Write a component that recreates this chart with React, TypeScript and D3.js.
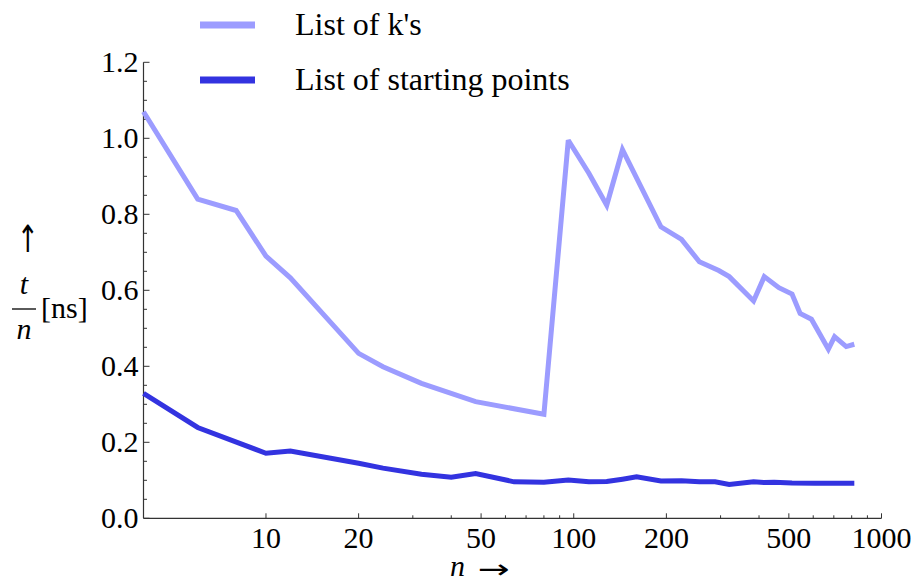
import React, { useEffect, useRef } from "react";
import * as d3 from "d3";

// list of k's
const kN = [4, 6, 8, 10, 12, 20, 24, 32, 48, 80, 96, 112, 128, 144, 192, 224, 256, 296, 320, 384, 416, 464, 512, 544, 592, 672, 704, 768, 816];
const kT = [1.07, 0.84, 0.81, 0.69, 0.633, 0.434, 0.399, 0.355, 0.307, 0.274, 0.995, 0.908, 0.824, 0.97, 0.767, 0.734, 0.675, 0.652, 0.636, 0.572, 0.636, 0.607, 0.59, 0.539, 0.524, 0.445, 0.478, 0.452, 0.458];

// list of starting points
const sN = [4, 6, 10, 12, 20, 24, 32, 40, 48, 64, 80, 96, 112, 128, 144, 160, 192, 224, 256, 288, 320, 384, 416, 448, 512, 608, 672, 816];
const sT = [0.329, 0.239, 0.171, 0.177, 0.145, 0.132, 0.116, 0.108, 0.118, 0.096, 0.095, 0.101, 0.096, 0.097, 0.103, 0.109, 0.098, 0.099, 0.096, 0.096, 0.089, 0.096, 0.094, 0.095, 0.093, 0.092, 0.092, 0.092];

const xLabels = [10, 20, 50, 100, 200, 500, 1000];
const xMinor = [30, 40, 60, 70, 80, 90, 300, 400, 600, 700, 800, 900];
const yLabels = [0, 0.2, 0.4, 0.6, 0.8, 1.0, 1.2];
const legendNames = ["List of k's", "List of starting points"];
const colors = ["#9c9cff", "#3333e0"];

const serif = "Liberation Serif";

export default function App() {
  const gref = useRef<SVGGElement>(null);
  const width = 917;
  const height = 584;

  useEffect(() => {
    const g = d3.select(gref.current);
    g.selectAll("*").remove();

    const x = d3.scaleLog([4, 1000], [143.5, 881.5]);
    const y = d3.scaleLinear([0, 1.2], [518.3, 62.3]);

    // x axis, ticks point inward
    const gx = g.append("g").attr("transform", `translate(0,${y(0)})`);
    gx.append("line")
      .attr("x1", x(4)).attr("x2", x(1000))
      .attr("stroke", "#333").attr("stroke-width", 1.2);
    gx.selectAll(".maj").data(xLabels).join("line")
      .attr("x1", d => x(d)).attr("x2", d => x(d))
      .attr("y1", 0).attr("y2", -5)
      .attr("stroke", "#333");
    gx.selectAll(".min").data(xMinor).join("line")
      .attr("x1", d => x(d)).attr("x2", d => x(d))
      .attr("y1", 0).attr("y2", -3)
      .attr("stroke", "#333");
    gx.selectAll("text").data(xLabels).join("text")
      .attr("x", d => x(d)).attr("y", 30)
      .attr("text-anchor", "middle")
      .attr("font-family", serif).attr("font-size", 30)
      .text(d => d);

    // y axis
    const gy = g.append("g").attr("transform", `translate(${x(4)},0)`);
    gy.append("line")
      .attr("y1", y(0)).attr("y2", y(1.2))
      .attr("stroke", "#333").attr("stroke-width", 1.2);
    gy.selectAll(".maj").data(yLabels).join("line")
      .attr("y1", d => y(d)).attr("y2", d => y(d))
      .attr("x1", 0).attr("x2", 6)
      .attr("stroke", "#333");
    gy.selectAll(".min").data(d3.range(0.05, 1.2, 0.05).filter((_, i) => (i + 1) % 4 !== 0)).join("line")
      .attr("y1", d => y(d)).attr("y2", d => y(d))
      .attr("x1", 0).attr("x2", 3.5)
      .attr("stroke", "#333");
    gy.selectAll("text").data(yLabels).join("text")
      .attr("x", -5).attr("y", d => y(d) + 10)
      .attr("text-anchor", "end")
      .attr("font-family", serif).attr("font-size", 30)
      .text(d => d3.format(".1f")(d));

    // lines
    const line = d3.line<[number, number]>()
      .x(d => x(d[0]))
      .y(d => y(d[1]));

    const series: [number, number][][] = [
      kN.map((n, i) => [n, kT[i]]),
      sN.map((n, i) => [n, sT[i]]),
    ];
    series.forEach((s, i) => {
      g.append("path")
        .attr("d", line(s))
        .attr("fill", "none")
        .attr("stroke", colors[i])
        .attr("stroke-width", 5)
        .attr("stroke-linejoin", "miter")
        .attr("stroke-miterlimit", 3);
    });

    // legend
    const lg = g.append("g");
    legendNames.forEach((name, i) => {
      const ly = 25 + i * 55;
      lg.append("line")
        .attr("x1", 200).attr("x2", 255)
        .attr("y1", ly).attr("y2", ly)
        .attr("stroke", colors[i]).attr("stroke-width", 7);
      lg.append("text")
        .attr("x", 295).attr("y", ly + 10)
        .attr("font-family", serif).attr("font-size", 32)
        .text(name);
    });
  }, []);

  const lab = { fontFamily: serif, fontSize: 30, fill: "#000" };
  const arrow = { fontFamily: "DejaVu Sans", fontSize: 26, fill: "#000" };

  return (
    <svg width={width} height={height}
      style={{ position: "absolute", left: 0, top: 0, background: "#fff" }}>
      <g ref={gref} />
      <text x={465} y={576} textAnchor="end" fontStyle="italic" style={lab}>n</text>
      <text x={478} y={578} textLength={32} lengthAdjust="spacingAndGlyphs" style={arrow}>→</text>
      <text transform="translate(28,252) scale(1,1.45)" textAnchor="middle" style={arrow}>↑</text>
      <text x={24} y={294} textAnchor="middle" fontStyle="italic" style={lab}>t</text>
      <line x1={12} x2={36} y1={309} y2={309} stroke="#000" strokeWidth={1.3} />
      <text x={24} y={339} textAnchor="middle" fontStyle="italic" style={lab}>n</text>
      <text x={41} y={318} style={lab}>[ns]</text>
    </svg>
  );
}
